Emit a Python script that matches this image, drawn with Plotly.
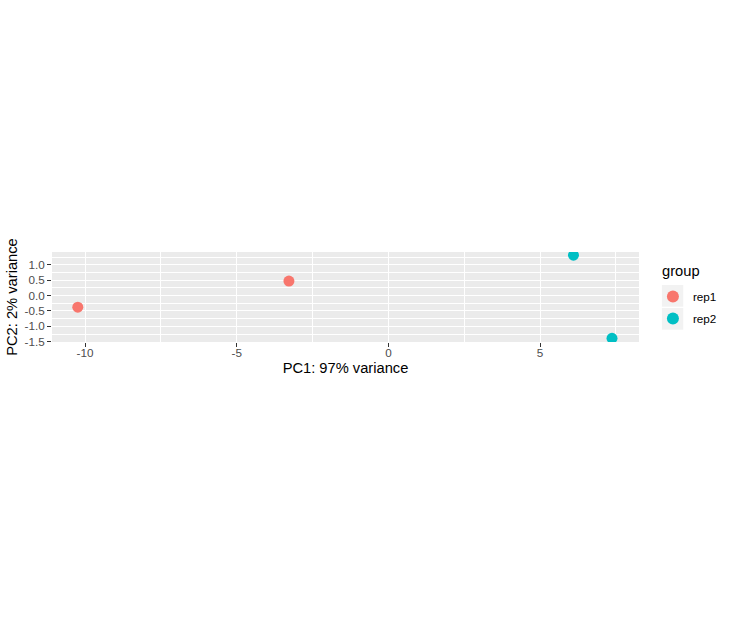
import plotly.graph_objects as go

groups = ["rep1", "rep1", "rep2", "rep2"]
pc1 = [-10.24, -3.28, 6.10, 7.37]
pc2 = [-0.38, 0.47, 1.31, -1.39]
group_names = ["rep1", "rep2"]
group_colors = ["#F8766D", "#00BFC4"]
x_ticks = [-10, -5, 0, 5]
y_ticks = [-1.5, -1.0, -0.5, 0.0, 0.5, 1.0]
y_tick_labels = ["-1.5", "-1.0", "-0.5", "0.0", "0.5", "1.0"]

FONT = "Liberation Sans, Arial, sans-serif"

# layout geometry in pixels
W, H = 734, 628
PL, PR, PT, PB = 52, 642, 252, 342
pw, ph = PR - PL, PB - PT


def px_x(x):
    return (x - PL) / pw


def px_y(y):
    return (PB - y) / ph


fig = go.Figure()
for i, (g, c) in enumerate(zip(group_names, group_colors)):
    xs = [x for x, gg in zip(pc1, groups) if gg == g]
    ys = [y for y, gg in zip(pc2, groups) if gg == g]
    fig.add_trace(go.Scatter(
        x=xs, y=ys, mode="markers", name=g, legendgroup=g,
        marker=dict(color=c, size=11, line=dict(width=0)),
    ))

# legend key backgrounds (grey95)
for k in range(len(group_names)):
    y0 = 285 + k * 23
    fig.add_shape(type="rect", xref="paper", yref="paper",
                  x0=px_x(665), x1=px_x(686.5), y0=px_y(y0 + 21.7), y1=px_y(y0),
                  fillcolor="#F2F2F2", line=dict(width=0), layer="below")

fig.add_annotation(text="group", xref="paper", yref="paper",
                   x=px_x(663), y=px_y(271), xanchor="left", yanchor="middle",
                   showarrow=False, font=dict(size=14.7, color="black", family=FONT))

fig.update_layout(
    width=W, height=H, autosize=False,
    margin=dict(l=PL, r=W - PR, t=PT, b=H - PB, pad=0),
    paper_bgcolor="white", plot_bgcolor="#EBEBEB",
    font=dict(family=FONT, color="black"),
    legend=dict(
        font=dict(size=11.7, color="black"),
        x=px_x(656), xanchor="left", y=px_y(282), yanchor="top",
        tracegroupgap=3, bgcolor="rgba(0,0,0,0)",
        itemsizing="constant",
    ),
    xaxis=dict(
        range=[-11.09, 8.26], tickmode="array", tickvals=x_ticks,
        ticktext=[str(v) for v in x_ticks], automargin=False,
        showgrid=True, gridcolor="white", gridwidth=1.1,
        zeroline=False, showline=False,
        ticks="outside", ticklen=4, tickwidth=1.1, tickcolor="#333333",
        tickfont=dict(size=11.7, color="#4D4D4D"), ticklabelstandoff=-4,
        minor=dict(dtick=2.5, tick0=0, showgrid=True, gridcolor="white", gridwidth=0.55, ticks=""),
        title=dict(text="PC1: 97% variance", font=dict(size=14.7, color="black"), standoff=4),
    ),
    yaxis=dict(
        range=[-1.51, 1.415], tickmode="array", tickvals=y_ticks,
        ticktext=y_tick_labels, automargin=False,
        showgrid=True, gridcolor="white", gridwidth=1.1,
        zeroline=False, showline=False,
        ticks="outside", ticklen=4, tickwidth=1.1, tickcolor="#333333",
        tickfont=dict(size=11.7, color="#4D4D4D"),
        minor=dict(dtick=0.25, tick0=0, showgrid=True, gridcolor="white", gridwidth=0.55, ticks=""),
        title=dict(text="PC2: 2% variance", font=dict(size=14.7, color="black"), standoff=3),
    ),
)

fig.write_html("out.html", config={"displayModeBar": False},
               post_script="document.body.style.margin='0px';")
